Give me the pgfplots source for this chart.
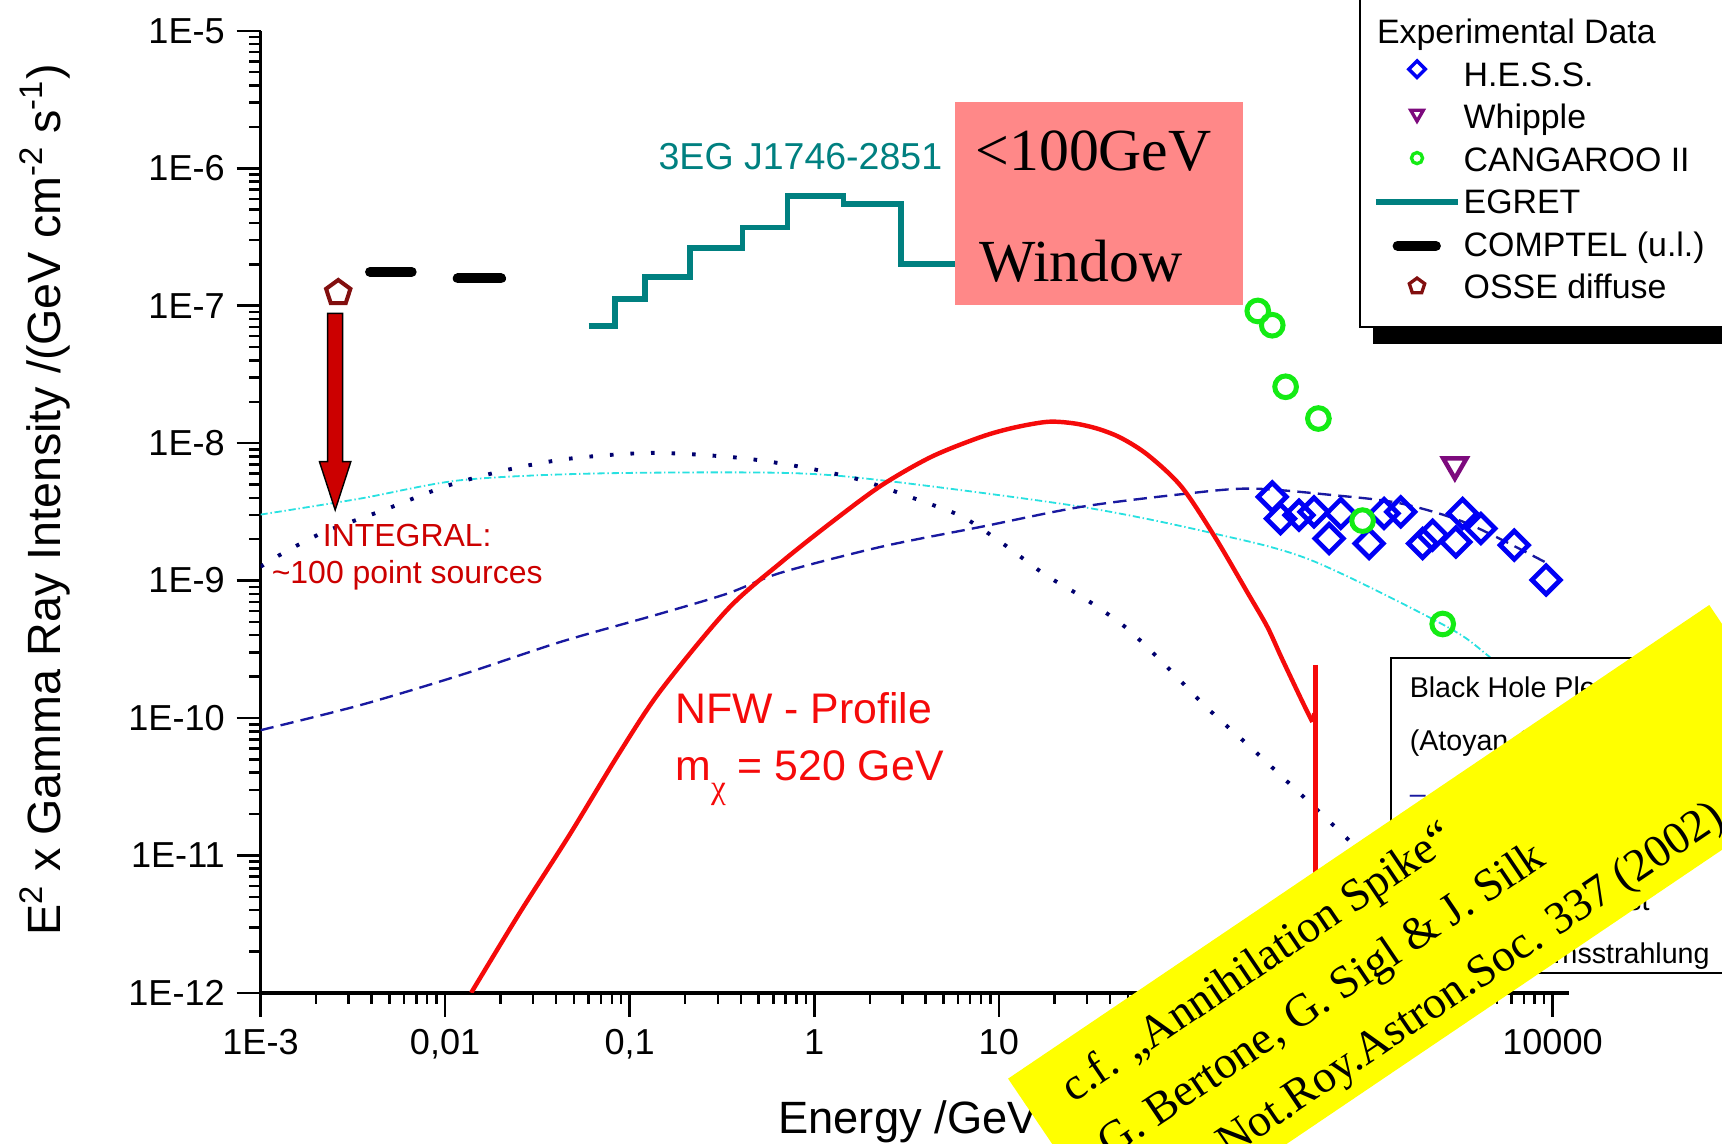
\documentclass[border=0pt]{standalone}
\usepackage{fontspec}
\setmainfont{Liberation Sans}
\newfontfamily\timesf{Liberation Serif}
\usepackage{pgfplots}
\pgfplotsset{compat=1.18}
\definecolor{egret}{RGB}{0,128,128}
\definecolor{nfwred}{RGB}{245,10,10}
\definecolor{intred}{RGB}{204,0,0}
\definecolor{dashblue}{RGB}{25,25,160}
\definecolor{dotblue}{RGB}{0,0,110}
\definecolor{cyanl}{RGB}{40,225,225}
\definecolor{hessblue}{RGB}{0,0,245}
\definecolor{whip}{RGB}{125,10,125}
\definecolor{cang}{RGB}{20,235,20}
\definecolor{osse}{RGB}{130,15,15}
\definecolor{salmon}{RGB}{255,136,136}
\definecolor{yel}{RGB}{255,255,0}
\pgfplotsset{legmark/.style={legend image code/.code={\path[draw=none,fill=none] (0pt,0pt) -- (17pt,0pt);\draw plot coordinates {(8.5pt,#1)};}}}
\begin{document}
\begin{tikzpicture}
\path[use as bounding box] (-93.8pt,-54.07pt) rectangle (526.1pt,357.4pt);
% shadow of the experimental-data legend box
\fill[black] (400.5pt,233.4pt) rectangle (620pt,420pt);
\begin{axis}[
  at={(0pt,0pt)}, anchor=south west,
  scale only axis, width=470.9pt, height=346.3pt,
  xmode=log, ymode=log,
  xmin=1e-3, xmax=12230, ymin=1e-12, ymax=1e-5,
  axis lines=left, axis line style={-, line width=1.4pt},
  tick align=outside,
  major tick length=8.6pt, minor tick length=4pt,
  every tick/.style={black, line width=0.9pt},
  xtick={1e-3,1e-2,1e-1,1,10,100,1000,10000},
  xticklabels={1E-3,{0,01},{0,1},1,10,100,1000,10000},
  ytick={1e-12,1e-11,1e-10,1e-9,1e-8,1e-7,1e-6,1e-5},
  yticklabels={1E-12,1E-11,1E-10,1E-9,1E-8,1E-7,1E-6,1E-5},
  minor xtick={2e-3,3e-3,4e-3,5e-3,6e-3,7e-3,8e-3,9e-3,0.02,0.03,0.04,0.05,0.06,0.07,0.08,0.09,0.2,0.3,0.4,0.5,0.6,0.7,0.8,0.9,2,3,4,5,6,7,8,9,20,30,40,50,60,70,80,90,200,300,400,500,600,700,800,900,2000,3000,4000,5000,6000,7000,8000,9000},
  minor ytick={2e-12,3e-12,4e-12,5e-12,6e-12,7e-12,8e-12,9e-12,2e-11,3e-11,4e-11,5e-11,6e-11,7e-11,8e-11,9e-11,2e-10,3e-10,4e-10,5e-10,6e-10,7e-10,8e-10,9e-10,2e-9,3e-9,4e-9,5e-9,6e-9,7e-9,8e-9,9e-9,2e-8,3e-8,4e-8,5e-8,6e-8,7e-8,8e-8,9e-8,2e-7,3e-7,4e-7,5e-7,6e-7,7e-7,8e-7,9e-7,2e-6,3e-6,4e-6,5e-6,6e-6,7e-6,8e-6,9e-6},
  tick label style={font=\fontsize{13}{13}\selectfont},
  xticklabel style={anchor=north, inner sep=0pt},
  xticklabel shift=4.5pt,
  yticklabel style={anchor=east, inner sep=0pt},
  yticklabel shift=4.1pt,
  xlabel={Energy /GeV},
  every axis x label/.style={at={(axis description cs:0.495,-0.146)}, anchor=base, font=\fontsize{16.3}{16.3}\selectfont},
  ylabel={E\textsuperscript{2} x Gamma Ray Intensity /(GeV cm\textsuperscript{-2} s\textsuperscript{-1})},
  every axis y label/.style={at={(axis description cs:-0.1531,0.5126)}, rotate=90, anchor=base, font=\fontsize{16.8}{16.8}\selectfont},
  legend cell align=left,
  legend style={at={(axis description cs:0.8399,0.6907)}, anchor=south west,
    draw=black, line width=0.8pt, fill=white,
    font=\fontsize{12.2}{12.2}\selectfont,
    inner xsep=11.9pt, inner ysep=8.2pt, row sep=3.3pt,
    nodes={inner sep=0pt, text height=10pt, text depth=2pt},
    /tikz/every odd column/.append style={column sep=8.3pt}},
]
% Cyan dash-dot model curve
\addplot[cyanl, line width=0.65pt, dash pattern=on 2.6pt off 1pt on 0.5pt off 1pt, smooth, forget plot] coordinates {
 (0.001,3.02e-9) (0.00347,3.95e-9) (0.0121,5.37e-9) (0.064,6.01e-9) (0.659,6.08e-9) (2.30,5.37e-9)
 (28,3.44e-9) (142,2.22e-9) (490,1.41e-9) (2588,4.73e-10) (4446,2.86e-10) (10000,1.1e-10)};
% Dotted model curve
\addplot[dotblue, line width=1.4pt, dash pattern=on 1.3pt off 6.1pt, smooth, forget plot] coordinates {
 (0.001,1.26e-9) (0.00131,1.57e-9) (0.00219,2.24e-9) (0.00474,3.29e-9) (0.01026,4.89e-9) (0.0221,6.43e-9)
 (0.0479,7.73e-9) (0.133,8.49e-9) (0.376,7.86e-9) (0.81,6.79e-9) (1.75,5.43e-9) (3.79,3.80e-9)
 (6.38,2.90e-9) (10.5,1.86e-9) (17.7,1.11e-9) (29.2,7.40e-10) (49.1,4.52e-10) (80.9,2.38e-10)
 (133,1.20e-10) (225,6.33e-11) (294,4.53e-11) (490,2.38e-11) (807,1.25e-11) (1500,5.6e-12)
 (3000,2.3e-12) (6000,9.5e-13)};
% Dashed model curve
\addplot[dashblue, line width=0.85pt, dash pattern=on 4.8pt off 2.6pt, smooth, forget plot] coordinates {
 (0.001,8.15e-11) (0.00347,1.24e-10) (0.0121,2.05e-10) (0.0423,3.58e-10) (0.147,5.75e-10) (0.339,8.05e-10)
 (0.659,1.14e-9) (2.30,1.76e-9) (8.02,2.46e-9) (28,3.44e-9) (97.7,4.25e-9) (231,4.67e-9)
 (652,4.18e-9) (1506,3.64e-9) (3467,2.60e-9) (9420,1.33e-9)};
% NFW profile
\addplot[nfwred, line width=1.6pt, smooth, forget plot] coordinates {
 (0.01384,1.0e-12) (0.0253,3.8e-12) (0.0472,1.41e-11) (0.0883,5.62e-11) (0.147,1.58e-10) (0.339,6.17e-10)
 (0.659,1.35e-9) (1.23,2.63e-9) (2.30,4.90e-9) (4.30,7.94e-9) (8.02,1.11e-8) (12.2,1.30e-8)
 (18.5,1.43e-8) (25.7,1.39e-8) (34.5,1.27e-8) (46.0,1.09e-8) (64.4,8.17e-9) (97.7,4.81e-9) (148,2.08e-9)
 (224,8.05e-10) (285,4.60e-10) (340,2.75e-10) (437,1.35e-10) (500,9.35e-11)};
\addplot[nfwred, line width=1.6pt, forget plot] coordinates {(500,9.35e-11) (512,1.08e-10)};
\addplot[nfwred, line width=1.5pt, forget plot] coordinates {(520,2.43e-10) (520,1e-12)};
% EGRET
\addplot[egret, line width=2.1pt, const plot, forget plot] coordinates {
 (0.0600,7.08e-8) (0.0834,1.12e-7) (0.1206,1.62e-7) (0.2117,2.62e-7) (0.4087,3.71e-7)
 (0.7161,6.32e-7) (1.441,5.46e-7) (2.939,2.02e-7) (6.25,2.02e-7)};
% COMPTEL upper limits
\addplot[black, line width=3.6pt, line cap=round, forget plot] coordinates {(0.00392,1.764e-7) (0.00659,1.764e-7)};
\addplot[black, line width=3.6pt, line cap=round, forget plot] coordinates {(0.0117,1.579e-7) (0.0201,1.579e-7)};
% H.E.S.S.
\addplot[only marks, hessblue, mark=square, mark size=3.6pt, mark options={rotate=45, line width=1.7pt}, forget plot] coordinates {
 (303,4.06e-9) (336,2.82e-9) (423,2.99e-9) (510,3.16e-9) (713,3.08e-9) (616,2.02e-9) (1014,1.86e-9)
 (1223,3.08e-9) (1506,3.16e-9) (1977,1.86e-9) (2240,2.14e-9) (2994,1.91e-9) (3256,3.08e-9)
 (4093,2.39e-9) (6209,1.81e-9) (9226,1.01e-9)};
% Whipple
\addplot[only marks, whip, mark=triangle, mark size=4.85pt, mark options={rotate=180, line width=1.6pt}, forget plot] coordinates {(2958,6.92e-9)};
% CANGAROO II
\addplot[only marks, cang, mark=o, mark size=3.9pt, mark options={line width=1.8pt}, forget plot] coordinates {
 (253,9.16e-8) (303,7.21e-8) (358,2.57e-8) (539,1.51e-8) (935,2.73e-9) (2541,4.83e-10)};
% OSSE diffuse
\addplot[only marks, osse, mark=pentagon, mark size=4.6pt, mark options={line width=1.45pt}, forget plot] coordinates {(0.002636,1.242e-7)};
% legend
\addlegendimage{empty legend}
\addlegendentry{\hspace{-31.2pt}Experimental Data}
\addlegendimage{only marks, hessblue, mark=square, mark size=2.1pt, mark options={rotate=45, line width=1.25pt}, legmark=2.2pt}
\addlegendentry{H.E.S.S.}
\addlegendimage{only marks, whip, mark=triangle, mark size=2.6pt, mark options={rotate=180, line width=1.2pt}, legmark=1.4pt}
\addlegendentry{Whipple}
\addlegendimage{only marks, cang, mark=o, mark size=2pt, mark options={line width=1.2pt}, legmark=0.8pt}
\addlegendentry{CANGAROO II}
\addlegendimage{egret, line width=2.3pt, legend image code/.code={\path[draw=none,fill=none] (0pt,0pt) -- (17pt,0pt);\draw[overlay] (-6.3pt,0.2pt) -- (23.4pt,0.2pt);}}
\addlegendentry{EGRET}
\addlegendimage{black, line width=3.6pt, line cap=round, legend image code/.code={\path[draw=none,fill=none] (0pt,0pt) -- (17pt,0pt);\draw[overlay] (1.5pt,-0.2pt) -- (15.3pt,-0.2pt);}}
\addlegendentry{COMPTEL (u.l.)}
\addlegendimage{only marks, osse, mark=pentagon, mark size=2.9pt, mark options={line width=1.2pt}, legmark=0.6pt}
\addlegendentry{OSSE diffuse}
\end{axis}
% <100GeV window box
\fill[salmon] (249.9pt,247.6pt) rectangle (353.6pt,320.8pt);
\node[anchor=base west, inner sep=0pt, font=\timesf\fontsize{21.5}{21.5}\selectfont] at (257.2pt,296.0pt) {<100GeV};
\node[anchor=base west, inner sep=0pt, font=\timesf\fontsize{21.5}{21.5}\selectfont] at (258.5pt,256.0pt) {Window};
% EGRET source name
\node[anchor=base west, inner sep=0pt, text=egret, font=\fontsize{13.5}{13.5}\selectfont] at (143.1pt,296.2pt) {3EG J1746-2851};
% INTEGRAL arrow
\filldraw[fill=intred, draw=black, line width=0.5pt] (24.16pt,244.6pt) -- (29.56pt,244.6pt) -- (29.56pt,191.2pt) -- (32.5pt,191.2pt) -- (26.86pt,173.8pt) -- (21.2pt,191.2pt) -- (24.16pt,191.2pt) -- cycle;
\node[anchor=base, inner sep=0pt, text=intred, font=\fontsize{11.5}{11.5}\selectfont] at (52.8pt,160.8pt) {INTEGRAL:};
\node[anchor=base, inner sep=0pt, text=intred, font=\fontsize{11.5}{11.5}\selectfont] at (52.8pt,147.2pt) {\textasciitilde 100 point sources};
% NFW annotation
\node[anchor=base west, inner sep=0pt, text=nfwred, font=\fontsize{15.4}{15.4}\selectfont] at (149.2pt,96.8pt) {NFW - Profile};
\node[anchor=base west, inner sep=0pt, text=nfwred, font=\fontsize{15.4}{15.4}\selectfont] at (149.2pt,76.6pt) {m\raisebox{-6.5pt}{\timesf\fontsize{12}{12}\selectfont χ} = 520 GeV};
% Black hole plerion legend box
\draw[line width=0.7pt, fill=white] (406.8pt,7.0pt) rectangle (570pt,120.6pt);
\begin{scope}[every node/.style={anchor=base west, inner sep=0pt, font=\fontsize{10.3}{10.3}\selectfont}]
\node at (413.5pt,106.4pt) {Black Hole Plerion};
\node at (413.5pt,87.25pt) {(Atoyan \& Dermer 2004)};
\node at (413.5pt,68.1pt) {{\color{dashblue}– – –} Inverse Compton};
\node at (413.5pt,48.95pt) {{\color{dotblue}·······} Synchrotron};
\node at (413.5pt,29.8pt) {\makebox[86.3pt][r]{Curvature, Fast}};
\node at (413.5pt,10.65pt) {\makebox[107.9pt][r]{Bremsstrahlung}};
\end{scope}
% Yellow reference band
\begin{scope}[shift={(269.1pt,-30.9pt)}, rotate=34.04, transform shape]
\fill[yel] (0pt,0pt) rectangle (304.6pt,-75.6pt);
\node[anchor=base west, inner sep=0pt, font=\timesf\fontsize{16.5}{16.5}\selectfont] at (14.4pt,-20.5pt) {c.f. „Annihilation Spike“};
\node[anchor=base west, inner sep=0pt, font=\timesf\fontsize{16.5}{16.5}\selectfont] at (14.4pt,-44.5pt) {G. Bertone, G. Sigl \& J. Silk};
\node[anchor=base west, inner sep=0pt, font=\timesf\fontsize{16.5}{16.5}\selectfont] at (14.4pt,-68.5pt) {Mon.Not.Roy.Astron.Soc. 337 (2002)};
\end{scope}
\end{tikzpicture}
\end{document}
